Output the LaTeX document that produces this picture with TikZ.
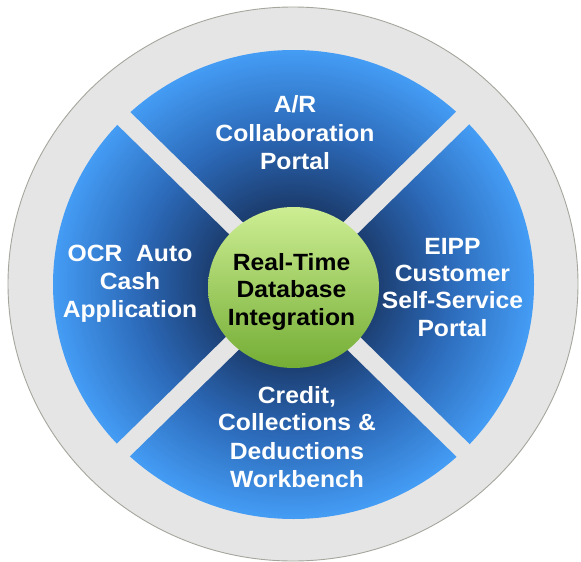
\documentclass[tikz,border=0pt]{standalone}
\usepackage{fontspec}
\setmainfont{Liberation Sans}[FakeStretch=1.05]
\definecolor{ringgray}{HTML}{E5E5E5}
\definecolor{ringedge}{HTML}{A6A69E}
\definecolor{bD}{HTML}{1B3D6F}
\definecolor{bM}{HTML}{2C6AB9}
\definecolor{bL}{HTML}{449CF4}
\definecolor{gTop}{HTML}{CDEE93}
\definecolor{gMid}{HTML}{A9D66A}
\definecolor{gBot}{HTML}{74AD35}
\tikzset{
  lbl/.style={anchor=base, inner sep=0pt, text=white, font=\fontsize{23.5}{28}\selectfont\bfseries},
  clbl/.style={lbl, text=black},
  band/.style={draw=ringgray, line width=18pt},
}
\begin{document}
\begin{tikzpicture}[x=1pt, y=-1pt]
\useasboundingbox (0,0) rectangle (581,562);
\fill[white] (0,0) rectangle (581,562);
% outer ring
\filldraw[fill=ringgray, draw=ringedge, line width=0.9pt] (293,284) ellipse [x radius=285, y radius=277];
% blue disc: radial gradient from light rim to dark centre
\foreach \i in {0,...,70} {
  \pgfmathsetmacro\f{1-\i*0.68/70}
  \pgfmathsetmacro\p{\f>=0.66 ? (\f-0.66)/0.34*100 : max(0,(\f-0.34)/0.32*100)}
  \ifdim\f pt<0.66pt
    \fill[bM!\p!bD] (293.5,284.5) ellipse [x radius=240.5*\f, y radius=234.5*\f];
  \else
    \fill[bL!\p!bM] (293.5,284.5) ellipse [x radius=240.5*\f, y radius=234.5*\f];
  \fi
}
% gaps
\coordinate (c) at (293,284);
\coordinate (ul) at (107,102);
\coordinate (ur) at (479,102);
\coordinate (ll) at (107,466);
\coordinate (lr) at (479,466);
\draw[band] (ul) -- (lr);
\draw[band] (ur) -- (ll);
% green hub
\shade[top color=gTop, middle color=gMid, bottom color=gBot] (293.5,287.5) ellipse [x radius=85.5, y radius=80.5];
% top
\node[lbl] (t1) at (295,112.7) {A/R};
\node[lbl] (t2) at (295,141) {Collaboration};
\node[lbl] (t3) at (295,169) {Portal};
% right
\node[lbl] (r1) at (452.5,254.3) {EIPP};
\node[lbl] (r2) at (452.5,281.7) {Customer};
\node[lbl] (r3) at (452.5,308.3) {Self-Service};
\node[lbl] (r4) at (452.5,336) {Portal};
% left
\node[lbl] (l1) at (130,261.7) {OCR\ \ Auto};
\node[lbl] (l2) at (130,289.7) {Cash};
\node[lbl] (l3) at (130,317.3) {Application};
% bottom
\node[lbl] (b1) at (297,403.4) {Credit,};
\node[lbl] (b2) at (297,430.3) {Collections \&};
\node[lbl] (b3) at (297,459) {Deductions};
\node[lbl] (b4) at (297,487.6) {Workbench};
% center
\node[clbl] (c1) at (291.5,270) {Real-Time};
\node[clbl] (c2) at (291.5,297.7) {Database};
\node[clbl] (c3) at (291.5,325) {Integration};
\end{tikzpicture}
\end{document}
